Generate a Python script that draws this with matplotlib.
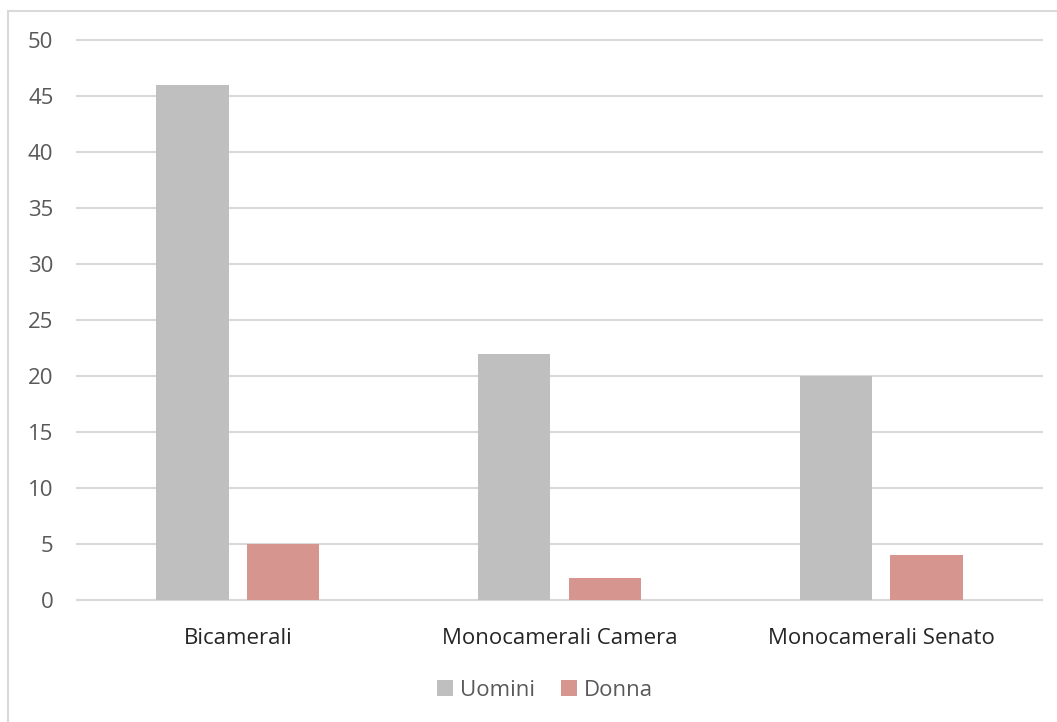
import matplotlib.pyplot as plt
import numpy as np
from matplotlib.patches import Rectangle

plt.rcParams['font.family'] = ['Open Sans', 'DejaVu Sans']

categorie = ['Bicamerali', 'Monocamerali Camera', 'Monocamerali Senato']
uomini = [46, 22, 20]
donne = [5, 2, 4]
serie = ['Uomini', 'Donna']

grigio = '#BFBFBF'
rosa = '#D79590'
testo = '#595959'
griglia = '#D9D9D9'

fig = plt.figure(figsize=(10.57, 7.22), dpi=100)
# cornice esterna del grafico
fig.patches.append(Rectangle((8 / 1057, -0.01), 1.02, 1 - 10.5 / 722 + 0.01,
                             transform=fig.transFigure, fill=False,
                             edgecolor=griglia, linewidth=1.5))

ax = fig.add_axes([77 / 1057, 122 / 722, 965 / 1057, 560 / 722])
x = np.arange(len(categorie))
w = 0.224
ax.bar(x - 0.141, uomini, w, color=grigio, label=serie[0], zorder=3)
ax.bar(x + 0.141, donne, w, color=rosa, label=serie[1], zorder=3)

ax.set_xlim(-0.5, 2.5)
ax.set_ylim(0, 50)
ax.set_yticks(range(0, 51, 5))
ax.set_xticks(x)
ax.set_xticklabels(categorie)
ax.yaxis.grid(True, color=griglia, linewidth=1.5, zorder=0)
for g in ax.get_ygridlines():
    g.set_clip_on(False)
for s in ['top', 'right', 'left']:
    ax.spines[s].set_visible(False)
ax.spines['bottom'].set_color(griglia)
ax.spines['bottom'].set_linewidth(1.5)
ax.tick_params(axis='both', length=0, labelsize=16, labelcolor=testo)
ax.tick_params(axis='x', pad=20, labelcolor='#262626')
ax.tick_params(axis='y', pad=17)

fig.legend(loc='center', bbox_to_anchor=(545 / 1057, 1 - 690 / 722), ncol=2,
           frameon=False, fontsize=16, labelcolor=testo, handlelength=0.7,
           handleheight=0.7, handletextpad=0.3, columnspacing=1.2)

fig.savefig('out.png', dpi=100)
